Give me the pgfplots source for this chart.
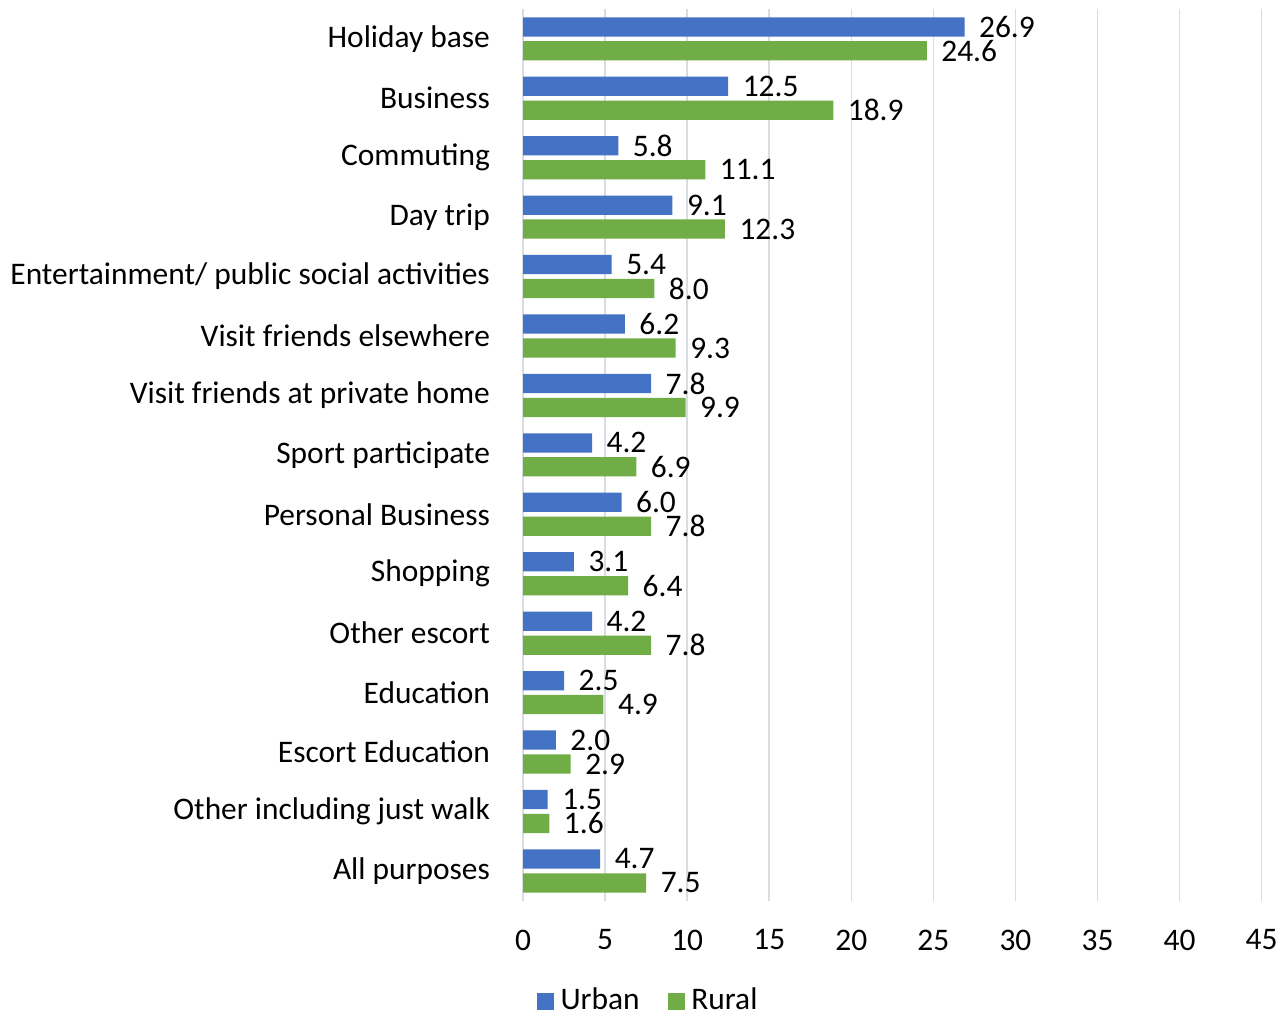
\documentclass[border=0pt]{standalone}
\usepackage{pgfplots}
\pgfplotsset{compat=1.18}
\usepackage{fontspec}
\setmainfont{Carlito}
\definecolor{urban}{HTML}{4472C4}
\definecolor{rural}{HTML}{70AD47}
\definecolor{gridc}{HTML}{D9DCE1}
\begin{document}
\fontsize{15.5pt}{18pt}\selectfont
\begin{tikzpicture}
\begin{axis}[
    scale only axis,
    width=364.5pt, height=440pt,
    xbar, bar width=9.5pt,
    xmin=0, xmax=45,
    ymin=-0.5, ymax=14.5,
    y dir=reverse,
    axis line style={draw=none},
    major tick length=0pt,
    xtick={0,5,...,45},
    ytick={0,...,14},
    yticklabels={Holiday base,Business,Commuting,Day trip,Entertainment/ public social activities,Visit friends elsewhere,Visit friends at private home,Sport participate,Personal Business,Shopping,Other escort,Education,Escort Education,Other including just walk,All purposes},
    yticklabel style={align=right, xshift=-11pt},
    xticklabel style={yshift=-9pt},
    xmajorgrids, grid style={gridc, line width=0.75pt},
    /pgf/number format/assume math mode=true,
    tick label style={font=\fontsize{15.5pt}{18pt}\selectfont},
    nodes near coords,
    nodes near coords style={anchor=west, xshift=7pt, inner sep=0pt, font=\fontsize{15.5pt}{18pt}\selectfont,
        /pgf/number format/.cd, fixed, precision=1, zerofill, assume math mode=true},
    legend style={draw=none, at={(0.171,-0.113)}, anchor=center, legend columns=2,
        font=\fontsize{15.5pt}{18pt}\selectfont,
        /tikz/every even column/.append style={column sep=12pt},
        /tikz/every odd column/.append style={column sep=1pt}},
    legend image code/.code={\fill[#1] (0cm,-4.2pt) rectangle (8.5pt,4.2pt);},
    clip=false,
]
\addplot[fill=urban, draw=none, bar shift=5.9pt] coordinates {
(26.9,0) (12.5,1) (5.8,2) (9.1,3) (5.4,4) (6.2,5) (7.8,6) (4.2,7) (6.0,8) (3.1,9) (4.2,10) (2.5,11) (2.0,12) (1.5,13) (4.7,14)};
\addplot[fill=rural, draw=none, bar shift=-5.9pt] coordinates {
(24.6,0) (18.9,1) (11.1,2) (12.3,3) (8.0,4) (9.3,5) (9.9,6) (6.9,7) (7.8,8) (6.4,9) (7.8,10) (4.9,11) (2.9,12) (1.6,13) (7.5,14)};
\legend{Urban,Rural}
\end{axis}
% small white margin above the plot area, as in the reference
\path (current axis.north) ++(0,4.5pt) coordinate (topm);
\path (topm) -- (current axis.north);
\end{tikzpicture}
\end{document}
